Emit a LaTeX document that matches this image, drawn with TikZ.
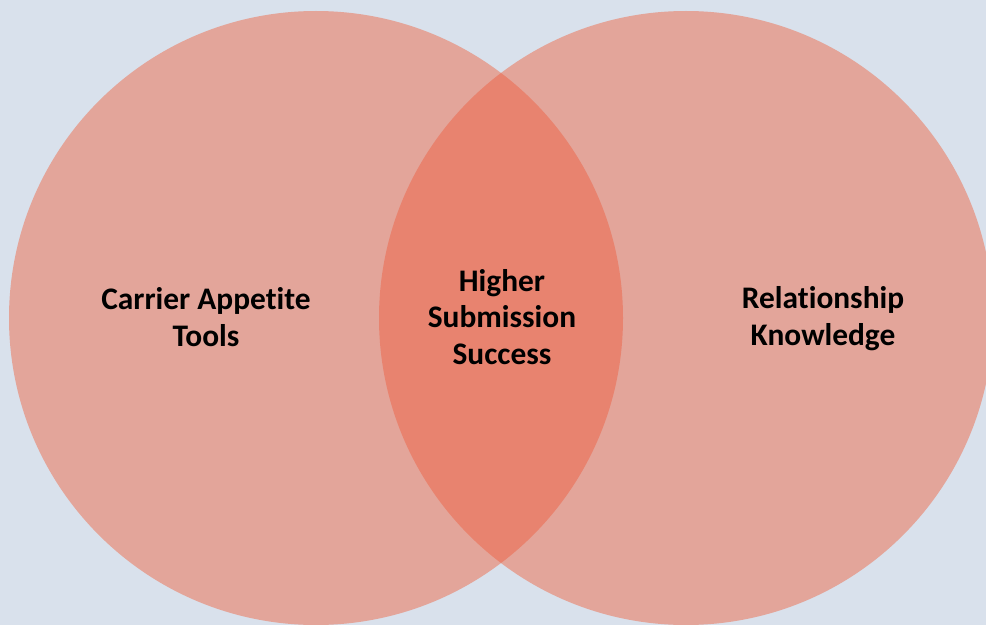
\documentclass[tikz,border=0pt]{standalone}
\usepackage{fontspec}
\setmainfont[Ligatures=NoCommon]{Carlito}
\definecolor{bgblue}{HTML}{D9E1EC}
\definecolor{circlepink}{HTML}{E3A59A}
\definecolor{overlapred}{HTML}{E8836F}
\begin{document}
\begin{tikzpicture}[x=1bp, y=-1bp,
  label/.style={align=center, font=\fontsize{31.5}{37}\selectfont\bfseries, text=black}]
\fill[bgblue] (0,0) rectangle (986,625);
\useasboundingbox (0,0) rectangle (986,625);

\fill[circlepink] (316,318) circle[radius=307];
\fill[circlepink] (686,318) circle[radius=307];
\begin{scope}
\clip (316,318) circle[radius=307];
\fill[overlapred] (686,318) circle[radius=307];
\end{scope}

\node[label] (tools) at (206,317) {Carrier Appetite\\Tools};
\node[label] (success) at (502,317) {Higher\\Submission\\Success};
\node[label] (knowledge) at (823,319) {Relationship\\Knowledge};
\end{tikzpicture}
\end{document}
